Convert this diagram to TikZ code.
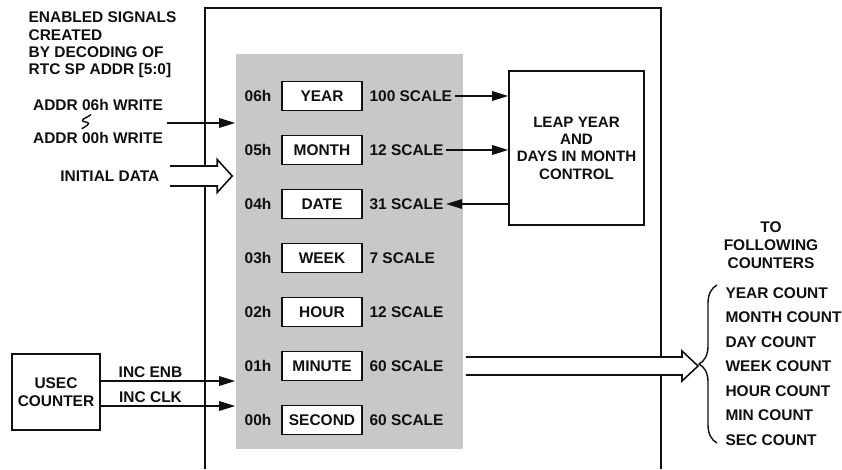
\documentclass[tikz,border=0pt]{standalone}
\usepackage{fontspec}
\setmainfont{Liberation Sans}
\usepackage{tikz}
\usetikzlibrary{arrows.meta, positioning, calc, decorations.pathreplacing}
\definecolor{panel}{HTML}{C8C8C8}
\definecolor{ink}{HTML}{101010}

\begin{document}
\begin{tikzpicture}[every node/.style={font=\fontsize{8.8}{10}\selectfont\bfseries, text=ink},
  line width=0.9pt, draw=ink,
  sig/.style={-{Triangle[length=0.32cm, width=0.19cm]}},
  regbox/.style={draw, fill=white, minimum width=1.6cm, minimum height=0.58cm, inner sep=1pt},
  block/.style={draw, fill=white, align=center, inner sep=2pt}]
  \useasboundingbox (0,0) rectangle (16.84,9.38);

  % Outer RTC block (open at the bottom)
  \draw (4.1,0) -- (4.1,9.22) -- (13.22,9.22) -- (13.22,0);

  % Register panel
  \node[fill=panel, minimum width=4.54cm, minimum height=7.9cm, inner sep=0] (regs) at (6.99,4.35) {};

  \foreach \i/\addr/\name/\scale in {
    6/06h/YEAR/100 SCALE,
    5/05h/MONTH/12 SCALE,
    4/04h/DATE/31 SCALE,
    3/03h/WEEK/7 SCALE,
    2/02h/HOUR/12 SCALE,
    1/01h/MINUTE/60 SCALE,
    0/00h/SECOND/60 SCALE
  }{
    \node[regbox] (r\i) at (6.44,0.98+1.08*\i) {\name};
    \node (a\i) at (5.16,0.98+1.08*\i) {\addr};
    \node[anchor=west, inner sep=1pt] (s\i) at (7.34,0.98+1.08*\i) {\scale};
  }

  % Leap year control
  \node[draw, minimum width=2.7cm, minimum height=3.08cm, align=center, font=\fontsize{8.6}{9.9}\selectfont\bfseries] (leap) at (11.53,6.42)
    {LEAP YEAR\\AND\\DAYS IN MONTH\\CONTROL};
  \draw[sig] (s6.east) -- (s6.east -| leap.west);
  \draw[sig] (s5.east) -- (s5.east -| leap.west);
  \draw[sig] (s4.east -| leap.west) -- (s4.east);

  % Address decode inputs
  \node[anchor=west, align=left, font=\fontsize{8.8}{9.9}\selectfont\bfseries] (enabled) at (0.44,8.48)
    {ENABLED SIGNALS\\CREATED\\BY DECODING OF\\RTC SP ADDR [5:0]};
  \node (addrhi) at (1.96,7.28) {ADDR 06h WRITE};
  \node (addrlo) at (1.96,6.62) {ADDR 00h WRITE};
  \draw[line width=0.8pt, line cap=round] plot[smooth, tension=0.9] coordinates {(1.81,7.08) (1.78,7.06) (1.65,6.97) (1.77,6.91) (1.64,6.81)};
  \coordinate (addrin) at (3.34,6.92);
  \draw[sig] (addrin) -- (addrin -| regs.west);

  % Initial data bus
  \node[anchor=east] (initdata) at (3.32,5.86) {INITIAL DATA};
  \coordinate (initin) at (3.40,5.86);
  \coordinate (inittip) at ($(initin -| regs.west)+(-0.06,0)$);
  \filldraw[fill=white] ($(initin)+(0,0.2)$) -- ($(inittip)+(-0.3,0.2)$) -- ($(inittip)+(-0.3,0.33)$)
    -- (inittip) -- ($(inittip)+(-0.3,-0.33)$) -- ($(inittip)+(-0.3,-0.2)$) -- ($(initin)+(0,-0.2)$);

  % USEC counter
  \node[block, minimum width=1.76cm, minimum height=1.52cm] (usec) at (1.12,1.54) {USEC\\COUNTER};
  \draw[sig] (usec.east |- 0,1.76) -- node[above, pos=0.37, inner sep=1.5pt] (incenb) {INC ENB} (regs.west |- 0,1.76);
  \draw[sig] (usec.east |- 0,1.26) -- node[above, pos=0.37, inner sep=1.5pt] (incclk) {INC CLK} (regs.west |- 0,1.26);

  % Output bus to following counters
  \coordinate (outbus) at (regs.east |- r1);
  \coordinate (outtip) at (13.96,2.06);
  \filldraw[fill=white] ($(outbus)+(0.04,0.18)$) -- ($(outtip)+(-0.32,0.18)$) -- ($(outtip)+(-0.32,0.3)$)
    -- (outtip) -- ($(outtip)+(-0.32,-0.3)$) -- ($(outtip)+(-0.32,-0.18)$) -- ($(outbus)+(0.04,-0.18)$);
  \draw[line width=0.8pt, decorate, decoration={brace, amplitude=0.36cm}] (14.34,0.52) -- (14.34,3.68);
  \node[align=center, font=\fontsize{8.8}{10.2}\selectfont\bfseries] (follow) at (15.42,4.48) {TO\\FOLLOWING\\COUNTERS};
  \foreach \k/\cnt in {0/YEAR COUNT, 1/MONTH COUNT, 2/DAY COUNT, 3/WEEK COUNT, 4/HOUR COUNT, 5/MIN COUNT, 6/SEC COUNT}{
    \node[anchor=west, inner sep=1pt] (c\k) at (14.46,3.52-0.49*\k) {\cnt};
  }
\end{tikzpicture}
\end{document}
